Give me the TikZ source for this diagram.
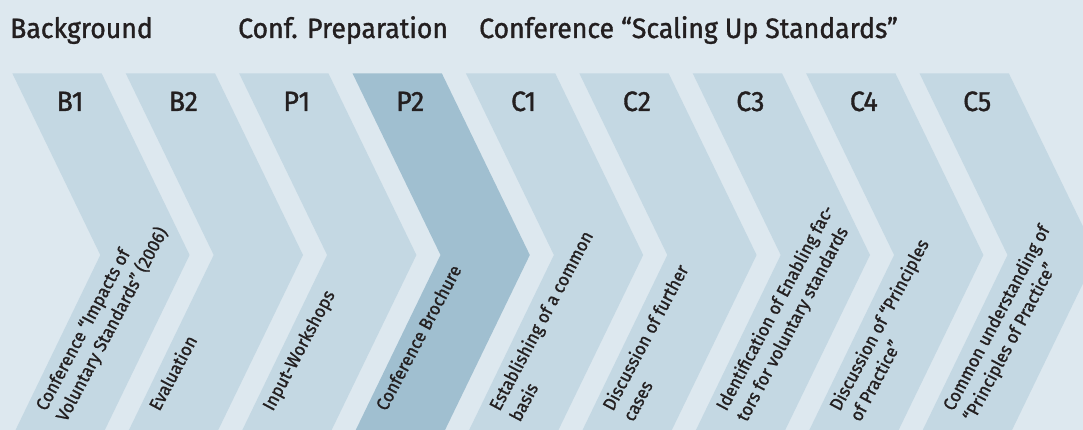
\documentclass[tikz,border=0pt]{standalone}
\usepackage{fontspec}
\setmainfont{Fira Sans}[FakeStretch=0.95, FakeBold=1.2]
\definecolor{bgc}{HTML}{DDE8EF}
\definecolor{chev}{HTML}{C4D8E3}
\definecolor{chevdark}{HTML}{A0BFD0}
\definecolor{ink}{HTML}{231F20}
\tikzset{
  head/.style={anchor=base west, inner sep=0pt, text=ink, font=\fontsize{28}{32}\selectfont},
  lab/.style={anchor=base, inner sep=0pt, text=ink, font=\fontsize{28}{32}\selectfont},
  rot/.style={anchor=base west, inner sep=0pt, text=ink, rotate=62, align=left, font=\fontsize{18}{23}\selectfont},
}
\newcommand{\chevron}[2]{%
  \fill[#2] (#1,73.3) -- ++(89.3,0) -- ++(88,181.7) -- ++(-88,181.7) -- ++(-89.3,0) -- ++(88,-181.7) -- cycle;}
\begin{document}
\begin{tikzpicture}[x=1pt,y=-1pt]
\useasboundingbox (0,0) rectangle (1083,430);
\fill[bgc] (0,0) rectangle (1083,430);
\begin{scope}
\clip (0,0) rectangle (1083,430);
\foreach \k in {0,1,2,4,5,6,7,8} {\chevron{12.3+113.4*\k}{chev}}
\chevron{12.3+113.4*3}{chevdark}
\end{scope}
\node[head] (h1) at (10,38) {Background};
\node[head] (h2) at (238,38) {Conf. Preparation};
\node[head] (h3) at (479,38) {Conference “Scaling Up Standards”};
\node[lab] (B1) at (70,111) {B1};
\node[lab] (B2) at (183.4,111) {B2};
\node[lab] (P1) at (296.8,111) {P1};
\node[lab] (P2) at (410.2,111) {P2};
\node[lab] (C1) at (523.6,111) {C1};
\node[lab] (C2) at (637,111) {C2};
\node[lab] (C3) at (750.4,111) {C3};
\node[lab] (C4) at (863.8,111) {C4};
\node[lab] (C5) at (977.2,111) {C5};
% single-line labels: baseline start; two-line labels: anchor on last line
\node[rot] (tB1) at (66.3,422.8) {Conference “Impacts of\\Voluntary Standards” (2006)};
\node[rot] (tB2) at (159.4,412) {Evaluation};
\node[rot] (tP1) at (272.8,412) {Input-Workshops};
\node[rot] (tP2) at (386.2,412) {Conference Brochure};
\node[rot] (tC1) at (519.9,422.8) {Establishing of a common\\basis};
\node[rot] (tC2) at (633.3,422.8) {Discussion of further\\cases};
\node[rot] (tC3) at (746.7,422.8) {Identification of Enabling fac-\\tors for voluntary standards};
\node[rot] (tC4) at (860.1,422.8) {Discussion of “Principles\\of Practice”};
\node[rot] (tC5) at (973.5,422.8) {Common understanding of\\“Principles of Practice”};
\end{tikzpicture}
\end{document}
